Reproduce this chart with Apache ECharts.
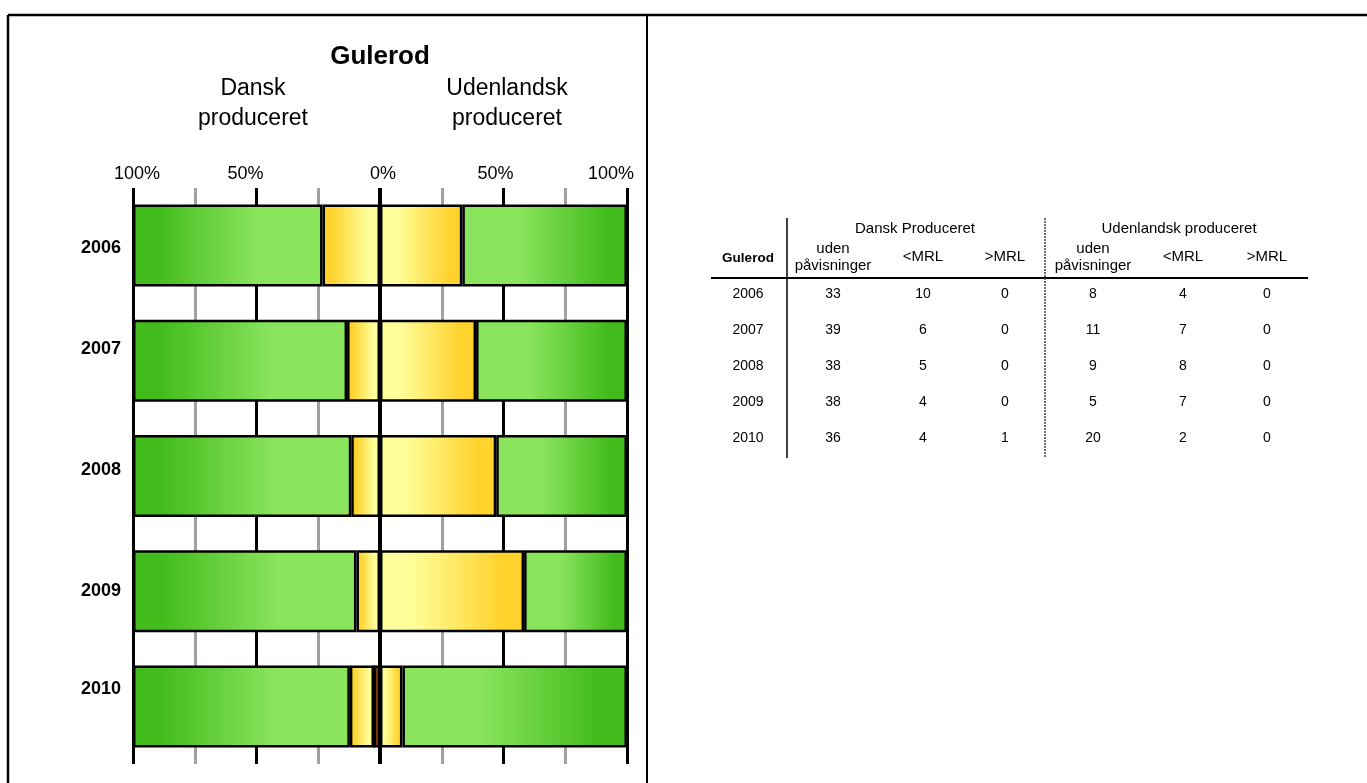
<!DOCTYPE html>
<html>
<head>
<meta charset="utf-8">
<script src="https://cdn.jsdelivr.net/npm/echarts@6/dist/echarts.min.js"></script>
<style>
html,body{margin:0;padding:0;background:#fff;}
#chart{width:1367px;height:783px;}
</style>
</head>
<body>
<div id="chart"></div>
<script>
// ---- data ----
var years = ['2006', '2007', '2008', '2009', '2010'];
var dkUden = [33, 39, 38, 38, 36];
var dkMrl  = [10, 6, 5, 4, 4];
var dkOver = [0, 0, 0, 0, 1];
var foUden = [8, 11, 9, 5, 20];
var foMrl  = [4, 7, 8, 7, 2];
var foOver = [0, 0, 0, 0, 0];
var tableHead = ['uden\npåvisninger', '<MRL', '>MRL'];
var groupNames = ['Dansk Produceret', 'Udenlandsk produceret'];

// ---- styling helpers (not data) ----
var FONT = '"Liberation Sans", Arial, sans-serif';
var yearLabelPad = { '2006': [4, 0, 0, 0], '2007': [0, 0, 24, 0], '2008': [0, 0, 12, 0], '2009': [0, 0, 0, 0], '2010': [0, 0, 34, 0] };
var xLabelPad = { '-100': [0, 0, 0, 8], '-50': [0, 22, 0, 0], '0': [0, 0, 0, 6], '50': [0, 16, 0, 0], '100': [0, 32, 0, 0] };

function total(a, b, c, i) { return a[i] + b[i] + c[i]; }
function pct(arr, a, b, c, sign) {
  return arr.map(function (v, i) { return sign * v / total(a, b, c, i) * 100; });
}
function grad(stops) {
  return new echarts.graphic.LinearGradient(0, 0, 1, 0, stops.map(function (s) { return { offset: s[0], color: s[1] }; }));
}
var G_DARK = '#42bb1c', G_LIGHT = '#8ae45c', Y_DARK = '#ffd22c', Y_LIGHT = '#ffff9c';
var RED = '#ee6a1e';

function barSeries(name, data, color) {
  return {
    name: name, type: 'bar', stack: 'all', data: data, barWidth: 82,
    itemStyle: { color: color, borderColor: '#000', borderWidth: 2.5 },
    silent: true, animation: false
  };
}

var series = [
  barSeries('dkOver', pct(dkOver, dkUden, dkMrl, dkOver, -1), RED),
  barSeries('foOver', pct(foOver, foUden, foMrl, foOver, 1), RED),
  barSeries('dkMrl', pct(dkMrl, dkUden, dkMrl, dkOver, -1), grad([[0, Y_DARK], [0.15, Y_DARK], [0.8, Y_LIGHT], [1, Y_LIGHT]])),
  barSeries('foMrl', pct(foMrl, foUden, foMrl, foOver, 1), grad([[0, Y_LIGHT], [0.2, Y_LIGHT], [0.85, Y_DARK], [1, Y_DARK]])),
  barSeries('dkUden', pct(dkUden, dkUden, dkMrl, dkOver, -1), grad([[0, G_DARK], [0.12, G_DARK], [0.65, G_LIGHT], [1, G_LIGHT]])),
  barSeries('foUden', pct(foUden, foUden, foMrl, foOver, 1), grad([[0, G_LIGHT], [0.35, G_LIGHT], [0.88, G_DARK], [1, G_DARK]]))
];
series[series.length - 1].markLine = {
  silent: true, symbol: 'none', label: { show: false },
  lineStyle: { color: '#000', width: 4, type: 'solid' },
  data: [{ xAxis: 0 }], animation: false
};

// ---- frame, titles, table ----
var gfx = [];
gfx.push({ type: 'line', shape: { x1: 8, y1: 15, x2: 1367, y2: 15 }, style: { stroke: '#000', lineWidth: 2.5 } });
gfx.push({ type: 'line', shape: { x1: 8, y1: 15, x2: 8, y2: 783 }, style: { stroke: '#000', lineWidth: 2.5 } });
gfx.push({ type: 'line', shape: { x1: 647, y1: 15, x2: 647, y2: 783 }, style: { stroke: '#000', lineWidth: 2 } });
gfx.push({ type: 'text', x: 380, y: 57, style: { text: 'Gulerod', font: 'bold 26px ' + FONT, fill: '#000', align: 'center', verticalAlign: 'middle' } });
gfx.push({ type: 'text', x: 253, y: 104, style: { text: 'Dansk\nproduceret', font: '23px ' + FONT, lineHeight: 30, fill: '#000', align: 'center', verticalAlign: 'middle' } });
gfx.push({ type: 'text', x: 507, y: 104, style: { text: 'Udenlandsk\nproduceret', font: '23px ' + FONT, lineHeight: 30, fill: '#000', align: 'center', verticalAlign: 'middle' } });

function t(x, y, s, font) {
  gfx.push({ type: 'text', x: x, y: y, style: { text: s, font: font + ' ' + FONT, lineHeight: 17, fill: '#000', align: 'center', verticalAlign: 'middle' } });
}
var dkCols = [833, 923, 1005], foCols = [1093, 1183, 1267];
t(915, 229, groupNames[0], '15px');
t(1179, 229, groupNames[1], '15px');
t(748, 258, 'Gulerod', 'bold 13.5px');
tableHead.forEach(function (h, j) { t(dkCols[j], 257, h, '15px'); t(foCols[j], 257, h, '15px'); });
var rowY = [294, 330, 366, 402, 438];
years.forEach(function (yr, i) {
  t(748, rowY[i], yr, '14px');
  [dkUden, dkMrl, dkOver].forEach(function (arr, j) { t(dkCols[j], rowY[i], String(arr[i]), '14px'); });
  [foUden, foMrl, foOver].forEach(function (arr, j) { t(foCols[j], rowY[i], String(arr[i]), '14px'); });
});
gfx.push({ type: 'line', shape: { x1: 711, y1: 278, x2: 1308, y2: 278 }, style: { stroke: '#000', lineWidth: 2 } });
gfx.push({ type: 'line', shape: { x1: 787, y1: 218, x2: 787, y2: 458 }, style: { stroke: '#000', lineWidth: 1.5 } });
gfx.push({ type: 'line', shape: { x1: 1045, y1: 218, x2: 1045, y2: 458 }, style: { stroke: '#444', lineWidth: 1.5, lineDash: [2, 1] } });

// rich styles for label nudges
var yRich = {}, xRich = {};
Object.keys(yearLabelPad).forEach(function (k) {
  yRich['y' + k] = { padding: yearLabelPad[k], fontSize: 18, fontWeight: 'bold', color: '#000', fontFamily: FONT };
});
Object.keys(xLabelPad).forEach(function (k) {
  xRich['x' + k.replace('-', 'm')] = { padding: xLabelPad[k], fontSize: 18, color: '#000', fontFamily: FONT };
});

var chart = echarts.init(document.getElementById('chart'), null, { renderer: 'canvas' });
chart.setOption({
  animation: false,
  backgroundColor: '#fff',
  grid: { left: 133, right: 740, top: 188, bottom: 19, containLabel: false },
  xAxis: {
    type: 'value', position: 'top', min: -100, max: 100, interval: 25,
    axisLine: { show: false }, axisTick: { show: false },
    axisLabel: {
      margin: 5, color: '#000', fontSize: 18, fontFamily: FONT,
      formatter: function (v) {
        if (v % 50 !== 0) return '';
        return '{x' + String(v).replace('-', 'm') + '|' + Math.abs(v) + '%}';
      },
      rich: xRich
    },
    splitLine: { show: true, lineStyle: { color: ['#000', '#a0a0a0'], width: 3 } }
  },
  yAxis: {
    type: 'category', data: years, inverse: true,
    axisLine: { show: false }, axisTick: { show: false },
    axisLabel: {
      margin: 12, color: '#000', fontSize: 18, fontWeight: 'bold', fontFamily: FONT,
      formatter: function (v) { return '{y' + v + '|' + v + '}'; },
      rich: yRich
    },
    splitLine: { show: false }
  },
  series: series,
  graphic: gfx
});
</script>
</body>
</html>
